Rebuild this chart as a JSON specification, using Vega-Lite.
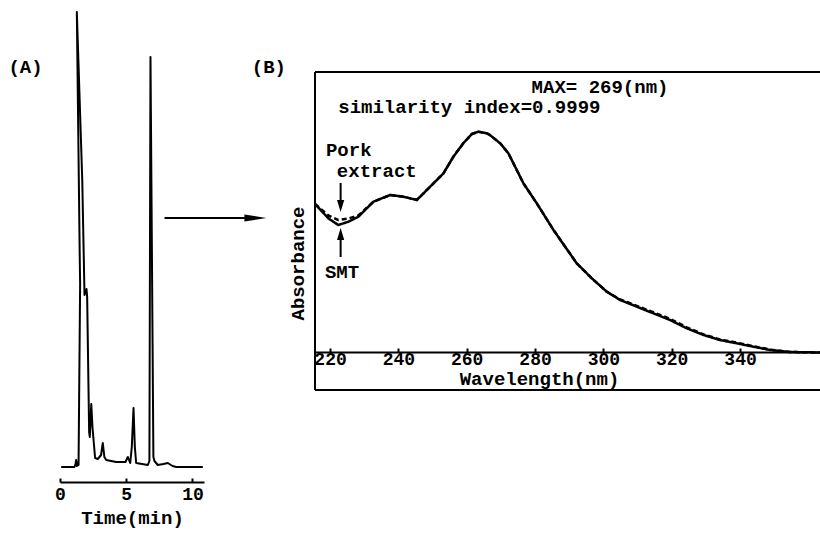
{
  "$schema": "https://vega.github.io/schema/vega-lite/v6.json",
  "autosize": {"type": "pad"},
  "padding": {"left": 8, "top": 11, "right": 0, "bottom": 4},
  "background": "white",
  "spacing": 111,
  "bounds": "flush",
  "config": {
    "view": {"stroke": null},
    "font": "Liberation Mono",
    "axis": {"grid": false, "labelFont": "Liberation Mono", "titleFont": "Liberation Mono", "labelColor": "black", "titleColor": "black", "domainColor": "black", "tickColor": "black", "labelFontWeight": "bold", "titleFontWeight": "bold", "labelFlush": false, "labelOverlap": false},
    "text": {"font": "Liberation Mono", "fontWeight": "bold", "fontSize": 19, "color": "black", "baseline": "middle"}
  },
  "datasets": {
    "one": [{}],
    "chrom": [
      {"i": 1, "t": 0.09, "h": 0}, {"i": 2, "t": 1.09, "h": 0}, {"i": 3, "t": 1.17, "h": 3}, {"i": 4, "t": 1.22, "h": 7},
      {"i": 5, "t": 1.28, "h": 1}, {"i": 6, "t": 1.40, "h": 2}, {"i": 7, "t": 1.52, "h": 184}, {"i": 8, "t": 1.50, "h": 200},
      {"i": 9, "t": 1.27, "h": 455}, {"i": 10, "t": 1.68, "h": 287}, {"i": 11, "t": 1.85, "h": 172}, {"i": 12, "t": 2.00, "h": 178},
      {"i": 13, "t": 2.05, "h": 170}, {"i": 14, "t": 2.20, "h": 35}, {"i": 15, "t": 2.25, "h": 30}, {"i": 16, "t": 2.36, "h": 63},
      {"i": 17, "t": 2.45, "h": 40}, {"i": 18, "t": 2.65, "h": 9}, {"i": 19, "t": 2.85, "h": 8}, {"i": 20, "t": 3.10, "h": 12},
      {"i": 21, "t": 3.23, "h": 24}, {"i": 22, "t": 3.35, "h": 10}, {"i": 23, "t": 3.49, "h": 7}, {"i": 24, "t": 4.24, "h": 5},
      {"i": 25, "t": 4.94, "h": 5}, {"i": 26, "t": 5.12, "h": 10}, {"i": 27, "t": 5.30, "h": 4}, {"i": 28, "t": 5.42, "h": 20},
      {"i": 29, "t": 5.55, "h": 59}, {"i": 30, "t": 5.65, "h": 20}, {"i": 31, "t": 5.75, "h": 4}, {"i": 32, "t": 6.63, "h": 2},
      {"i": 33, "t": 6.75, "h": 6}, {"i": 34, "t": 6.83, "h": 410}, {"i": 35, "t": 7.05, "h": 10}, {"i": 36, "t": 7.13, "h": 6},
      {"i": 37, "t": 7.38, "h": 2}, {"i": 38, "t": 7.80, "h": 3}, {"i": 39, "t": 8.14, "h": 4}, {"i": 40, "t": 8.50, "h": 1},
      {"i": 41, "t": 8.77, "h": 0}, {"i": 42, "t": 10.78, "h": 0}
    ],
    "spec": [
      {"sample": "SMT", "wl": 215.6, "a": 148}, {"sample": "SMT", "wl": 219.5, "a": 133.7}, {"sample": "SMT", "wl": 222.4, "a": 127},
      {"sample": "SMT", "wl": 225.4, "a": 130.3}, {"sample": "SMT", "wl": 228.3, "a": 135.3}, {"sample": "SMT", "wl": 232.7, "a": 150.3},
      {"sample": "SMT", "wl": 237.6, "a": 157}, {"sample": "SMT", "wl": 241.5, "a": 155.3}, {"sample": "SMT", "wl": 245.4, "a": 152},
      {"sample": "SMT", "wl": 249.3, "a": 165.3}, {"sample": "SMT", "wl": 253.2, "a": 178.7}, {"sample": "SMT", "wl": 256.1, "a": 195.3},
      {"sample": "SMT", "wl": 259, "a": 208.7}, {"sample": "SMT", "wl": 261.5, "a": 218}, {"sample": "SMT", "wl": 263.4, "a": 220.3},
      {"sample": "SMT", "wl": 265.9, "a": 218.7}, {"sample": "SMT", "wl": 266.8, "a": 217}, {"sample": "SMT", "wl": 269.8, "a": 208.7},
      {"sample": "SMT", "wl": 272.2, "a": 198.7}, {"sample": "SMT", "wl": 276.6, "a": 168.7}, {"sample": "SMT", "wl": 280.5, "a": 148.7},
      {"sample": "SMT", "wl": 285.4, "a": 122}, {"sample": "SMT", "wl": 292.2, "a": 88.7}, {"sample": "SMT", "wl": 296.6, "a": 73.7},
      {"sample": "SMT", "wl": 301, "a": 60.3}, {"sample": "SMT", "wl": 304.9, "a": 52}, {"sample": "SMT", "wl": 309.8, "a": 45.3},
      {"sample": "SMT", "wl": 319.5, "a": 32}, {"sample": "SMT", "wl": 324.4, "a": 23.7}, {"sample": "SMT", "wl": 329.3, "a": 17},
      {"sample": "SMT", "wl": 334.1, "a": 12}, {"sample": "SMT", "wl": 339, "a": 8.7}, {"sample": "SMT", "wl": 343.9, "a": 5.3},
      {"sample": "SMT", "wl": 348.8, "a": 2}, {"sample": "SMT", "wl": 354.6, "a": 0}, {"sample": "SMT", "wl": 363.4, "a": -0.5},
      {"sample": "Pork extract", "wl": 215.6, "a": 148}, {"sample": "Pork extract", "wl": 219.5, "a": 136.5}, {"sample": "Pork extract", "wl": 222.4, "a": 132},
      {"sample": "Pork extract", "wl": 225.4, "a": 133.5}, {"sample": "Pork extract", "wl": 228.3, "a": 136.5}, {"sample": "Pork extract", "wl": 232.7, "a": 150.3},
      {"sample": "Pork extract", "wl": 237.6, "a": 157}, {"sample": "Pork extract", "wl": 241.5, "a": 155.3}, {"sample": "Pork extract", "wl": 245.4, "a": 152},
      {"sample": "Pork extract", "wl": 249.3, "a": 165.3}, {"sample": "Pork extract", "wl": 253.2, "a": 178.7}, {"sample": "Pork extract", "wl": 256.1, "a": 195.3},
      {"sample": "Pork extract", "wl": 259, "a": 208.7}, {"sample": "Pork extract", "wl": 261.5, "a": 218}, {"sample": "Pork extract", "wl": 263.4, "a": 220.3},
      {"sample": "Pork extract", "wl": 265.9, "a": 218.7}, {"sample": "Pork extract", "wl": 266.8, "a": 217}, {"sample": "Pork extract", "wl": 269.8, "a": 208.7},
      {"sample": "Pork extract", "wl": 272.2, "a": 198.7}, {"sample": "Pork extract", "wl": 276.6, "a": 168.7}, {"sample": "Pork extract", "wl": 280.5, "a": 148.7},
      {"sample": "Pork extract", "wl": 285.4, "a": 122}, {"sample": "Pork extract", "wl": 292.2, "a": 88.7}, {"sample": "Pork extract", "wl": 296.6, "a": 73.7},
      {"sample": "Pork extract", "wl": 301, "a": 60.3}, {"sample": "Pork extract", "wl": 304.9, "a": 52.6}, {"sample": "Pork extract", "wl": 309.8, "a": 46.2},
      {"sample": "Pork extract", "wl": 319.5, "a": 33.2}, {"sample": "Pork extract", "wl": 324.4, "a": 24.7}, {"sample": "Pork extract", "wl": 329.3, "a": 17.6},
      {"sample": "Pork extract", "wl": 334.1, "a": 12.5}, {"sample": "Pork extract", "wl": 339, "a": 9.4}, {"sample": "Pork extract", "wl": 343.9, "a": 5.8},
      {"sample": "Pork extract", "wl": 348.8, "a": 2.4}, {"sample": "Pork extract", "wl": 354.6, "a": 0}, {"sample": "Pork extract", "wl": 363.4, "a": -0.5}
    ]
  },
  "hconcat": [
    {
      "width": 144,
      "height": 470,
      "layer": [
        {
          "data": {"name": "chrom"},
          "mark": {"type": "line", "color": "black", "strokeWidth": 2, "strokeJoin": "round"},
          "encoding": {
            "x": {"field": "t", "type": "quantitative", "scale": {"domain": [0, 10.87], "nice": false, "zero": false},
                  "axis": {"values": [0, 5, 10], "title": "Time(min)", "domainWidth": 2, "tickSize": -4, "tickWidth": 2, "labelFontSize": 18, "labelPadding": 7, "titleFontSize": 19, "titlePadding": 5}},
            "y": {"field": "h", "type": "quantitative", "scale": {"domain": [-15, 455], "nice": false, "zero": false}, "axis": null},
            "order": {"field": "i", "type": "quantitative"}
          }
        },
        {
          "data": {"name": "one"},
          "mark": {"type": "rule", "color": "black", "strokeWidth": 2},
          "encoding": {"x": {"datum": 7.89}, "x2": {"datum": 14.4}, "y": {"datum": 249}}
        },
        {
          "data": {"name": "one"},
          "mark": {"type": "point", "shape": "M-1,-0.32L1,0L-1,0.32Z", "filled": true, "color": "black", "opacity": 1, "size": 484},
          "encoding": {"x": {"datum": 14.75}, "y": {"datum": 249}}
        },
        {
          "data": {"name": "one"},
          "mark": {"type": "text", "align": "center"},
          "encoding": {"x": {"datum": -2.6}, "y": {"datum": 400}, "text": {"value": "(A)"}}
        }
      ]
    },
    {
      "width": 505,
      "height": 378,
      "layer": [
        {
          "data": {"name": "spec"},
          "mark": {"type": "line", "color": "black", "strokeWidth": 2.5, "strokeJoin": "round"},
          "encoding": {
            "x": {"field": "wl", "type": "quantitative", "scale": {"domain": [215.6, 363.4], "nice": false, "zero": false},
                  "axis": {"values": [220, 240, 260, 280, 300, 320, 340], "title": "Wavelength(nm)", "offset": -38, "domainWidth": 2, "tickSize": -4, "tickWidth": 2, "labelFontSize": 18, "labelPadding": 2, "titleFontSize": 19, "titlePadding": 1, "titleX": 224, "titleAlign": "center", "titleAnchor": null}},
            "y": {"field": "a", "type": "quantitative", "scale": {"domain": [-38, 340], "nice": false, "zero": false},
                  "axis": {"title": "Absorbance", "domain": false, "ticks": false, "labels": false, "titleFontSize": 19, "titleX": -18, "titleY": 251, "titleAngle": 270, "titleAlign": "center", "titleBaseline": "middle"}},
            "strokeDash": {"field": "sample", "type": "nominal", "scale": {"domain": ["SMT", "Pork extract"], "range": [[1, 0], [5, 3]]}, "legend": null}
          }
        },
        {
          "data": {"name": "one"},
          "mark": {"type": "rule", "color": "black", "strokeWidth": 2},
          "encoding": {"x": {"datum": 215.6}, "x2": {"datum": 363.4}, "y": {"datum": 280}}
        },
        {
          "data": {"name": "one"},
          "mark": {"type": "rule", "color": "black", "strokeWidth": 2},
          "encoding": {"x": {"datum": 215.6}, "x2": {"datum": 363.4}, "y": {"datum": -38}}
        },
        {
          "data": {"name": "one"},
          "mark": {"type": "rule", "color": "black", "strokeWidth": 2},
          "encoding": {"x": {"datum": 215.6}, "y": {"datum": -38}, "y2": {"datum": 280}}
        },
        {
          "data": {"name": "one"},
          "mark": {"type": "rule", "color": "black", "strokeWidth": 2},
          "encoding": {"x": {"datum": 223.1}, "y": {"datum": 150}, "y2": {"datum": 169}}
        },
        {
          "data": {"name": "one"},
          "mark": {"type": "point", "shape": "M-0.6,-1L0.6,-1L0,1Z", "filled": true, "color": "black", "opacity": 1, "size": 144},
          "encoding": {"x": {"datum": 223.1}, "y": {"datum": 146}}
        },
        {
          "data": {"name": "one"},
          "mark": {"type": "rule", "color": "black", "strokeWidth": 2},
          "encoding": {"x": {"datum": 223.1}, "y": {"datum": 95}, "y2": {"datum": 114}}
        },
        {
          "data": {"name": "one"},
          "mark": {"type": "point", "shape": "M-0.6,1L0.6,1L0,-1Z", "filled": true, "color": "black", "opacity": 1, "size": 144},
          "encoding": {"x": {"datum": 223.1}, "y": {"datum": 118}}
        },
        {
          "data": {"name": "one"},
          "mark": {"type": "text", "align": "left"},
          "encoding": {"x": {"datum": 279}, "y": {"datum": 265.3}, "text": {"value": "MAX= 269(nm)"}}
        },
        {
          "data": {"name": "one"},
          "mark": {"type": "text", "align": "left"},
          "encoding": {"x": {"datum": 222.4}, "y": {"datum": 245.3}, "text": {"value": "similarity index=0.9999"}}
        },
        {
          "data": {"name": "one"},
          "mark": {"type": "text", "align": "left"},
          "encoding": {"x": {"datum": 218.8}, "y": {"datum": 202}, "text": {"value": "Pork"}}
        },
        {
          "data": {"name": "one"},
          "mark": {"type": "text", "align": "left"},
          "encoding": {"x": {"datum": 222}, "y": {"datum": 181.3}, "text": {"value": "extract"}}
        },
        {
          "data": {"name": "one"},
          "mark": {"type": "text", "align": "left"},
          "encoding": {"x": {"datum": 218.5}, "y": {"datum": 80.3}, "text": {"value": "SMT"}}
        },
        {
          "data": {"name": "one"},
          "mark": {"type": "text", "align": "center"},
          "encoding": {"x": {"datum": 202.1}, "y": {"datum": 285}, "text": {"value": "(B)"}}
        }
      ]
    }
  ]
}
